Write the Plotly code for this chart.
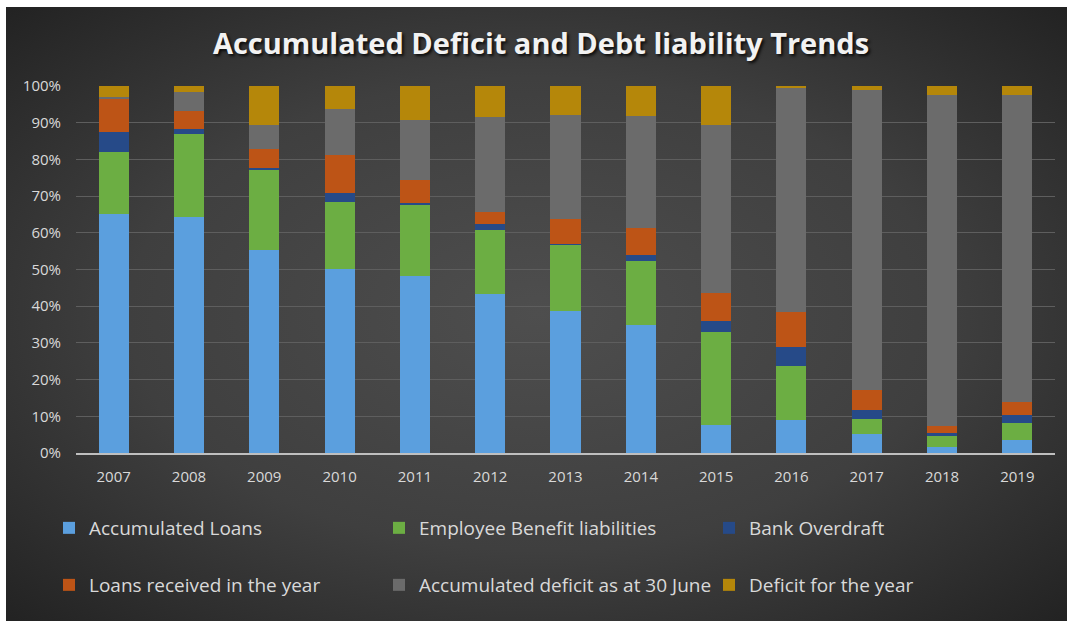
import base64
import plotly.graph_objects as go

# Share of each component in the total, per financial year (percent)
years = ["2007", "2008", "2009", "2010", "2011", "2012", "2013",
         "2014", "2015", "2016", "2017", "2018", "2019"]
accumulated_loans = [65.0, 64.2, 55.2, 50.1, 48.3, 43.3, 38.6, 34.8, 7.5, 9.1, 5.2, 1.7, 3.5]
employee_benefits = [17.0, 22.8, 22.1, 18.3, 19.3, 17.4, 18.1, 17.5, 25.6, 14.5, 4.0, 3.0, 4.6]
bank_overdraft = [5.4, 1.2, 0.3, 2.5, 0.6, 1.7, 0.3, 1.7, 3.0, 5.4, 2.5, 0.7, 2.2]
loans_received = [9.0, 5.0, 5.2, 10.3, 6.1, 3.4, 6.8, 7.4, 7.5, 9.3, 5.4, 1.9, 3.6]
accumulated_deficit = [0.7, 5.1, 6.6, 12.4, 16.4, 25.7, 28.4, 30.3, 45.8, 61.1, 81.9, 90.2, 83.6]
deficit_for_year = [2.9, 1.7, 10.6, 6.4, 9.3, 8.5, 7.8, 8.3, 10.6, 0.6, 1.0, 2.5, 2.5]

series = [
    ("Accumulated Loans", accumulated_loans, "#5B9FDE", "legend"),
    ("Employee Benefit liabilities", employee_benefits, "#6CAE43", "legend"),
    ("Bank Overdraft", bank_overdraft, "#264A88", "legend"),
    ("Loans received in the year", loans_received, "#BD5416", "legend2"),
    ("Accumulated deficit as at 30 June", accumulated_deficit, "#6B6B6B", "legend2"),
    ("Deficit for the year", deficit_for_year, "#B5870A", "legend2"),
]

W, H = 1067, 621
ML, MR, MT, MB = 76, 12, 86, 168
PW, PH = W - ML - MR, H - MT - MB

FONT = "Open Sans"
TXT = "#D9D9D9"

fig = go.Figure()
for name, vals, color, leg in series:
    fig.add_trace(go.Bar(
        x=years, y=vals, name=name,
        marker=dict(color=color, line=dict(width=0)),
        legend=leg,
    ))

# Dark vignette backdrop (radial gradient) behind the whole chart card
svg = (
    '<svg xmlns="http://www.w3.org/2000/svg" width="1061" height="614" preserveAspectRatio="none">'
    '<defs><radialGradient id="g" cx="50%" cy="50%" r="70%">'
    '<stop offset="0%" stop-color="#4E4E4E"/>'
    '<stop offset="55%" stop-color="#3F3F3F"/>'
    '<stop offset="100%" stop-color="#232323"/>'
    '</radialGradient></defs>'
    '<rect width="1061" height="614" fill="url(#g)"/></svg>'
)
src = "data:image/svg+xml;base64," + base64.b64encode(svg.encode()).decode()

card_x0, card_y0 = 6, 7
img_x = (card_x0 - ML) / PW
img_y = (H - MB - card_y0) / PH
img_w = (W - card_x0) / PW
img_h = (H - card_y0) / PH

legend_common = dict(
    orientation="h", x=(49 - ML) / PW, xanchor="left", yanchor="middle",
    entrywidth=285, entrywidthmode="pixels", itemwidth=30,
    font=dict(size=19, color=TXT), bgcolor="rgba(0,0,0,0)",
    traceorder="normal",
)

fig.update_layout(
    width=W, height=H,
    margin=dict(l=ML, r=MR, t=MT, b=MB, pad=0),
    paper_bgcolor="white",
    plot_bgcolor="rgba(0,0,0,0)",
    barmode="stack",
    barnorm="percent",
    bargap=0.6,
    images=[dict(
        source=src, xref="paper", yref="paper",
        x=img_x, y=img_y, sizex=img_w, sizey=img_h,
        xanchor="left", yanchor="top", sizing="stretch", layer="below",
    )],
    title=dict(
        text="<b>Accumulated Deficit and Debt liability Trends</b>",
        x=541 / W, xanchor="center", xref="container",
        y=1 - 44 / H, yanchor="middle", yref="container",
        font=dict(family=FONT, size=29, color="#F2F2F2",
                  shadow="2px 2px 3px rgba(0,0,0,0.8)"),
    ),
    font=dict(family=FONT, color=TXT),
    xaxis=dict(
        showgrid=False, zeroline=False,
        showline=True, linecolor="#BFBFBF", linewidth=2,
        ticks="", tickfont=dict(size=15, color=TXT),
        ticklabelstandoff=9,
    ),
    yaxis=dict(
        range=[0, 100], dtick=10, ticksuffix="%",
        showgrid=True, gridcolor="#5E5E5E", gridwidth=1,
        zeroline=False, showline=False, ticks="",
        tickfont=dict(size=15, color=TXT),
        ticklabelstandoff=14,
    ),
    legend=dict(legend_common, y=(H - MB - 528) / PH),
    legend2=dict(legend_common, y=(H - MB - 585) / PH),
    showlegend=True,
)

fig.write_html("out.html")
